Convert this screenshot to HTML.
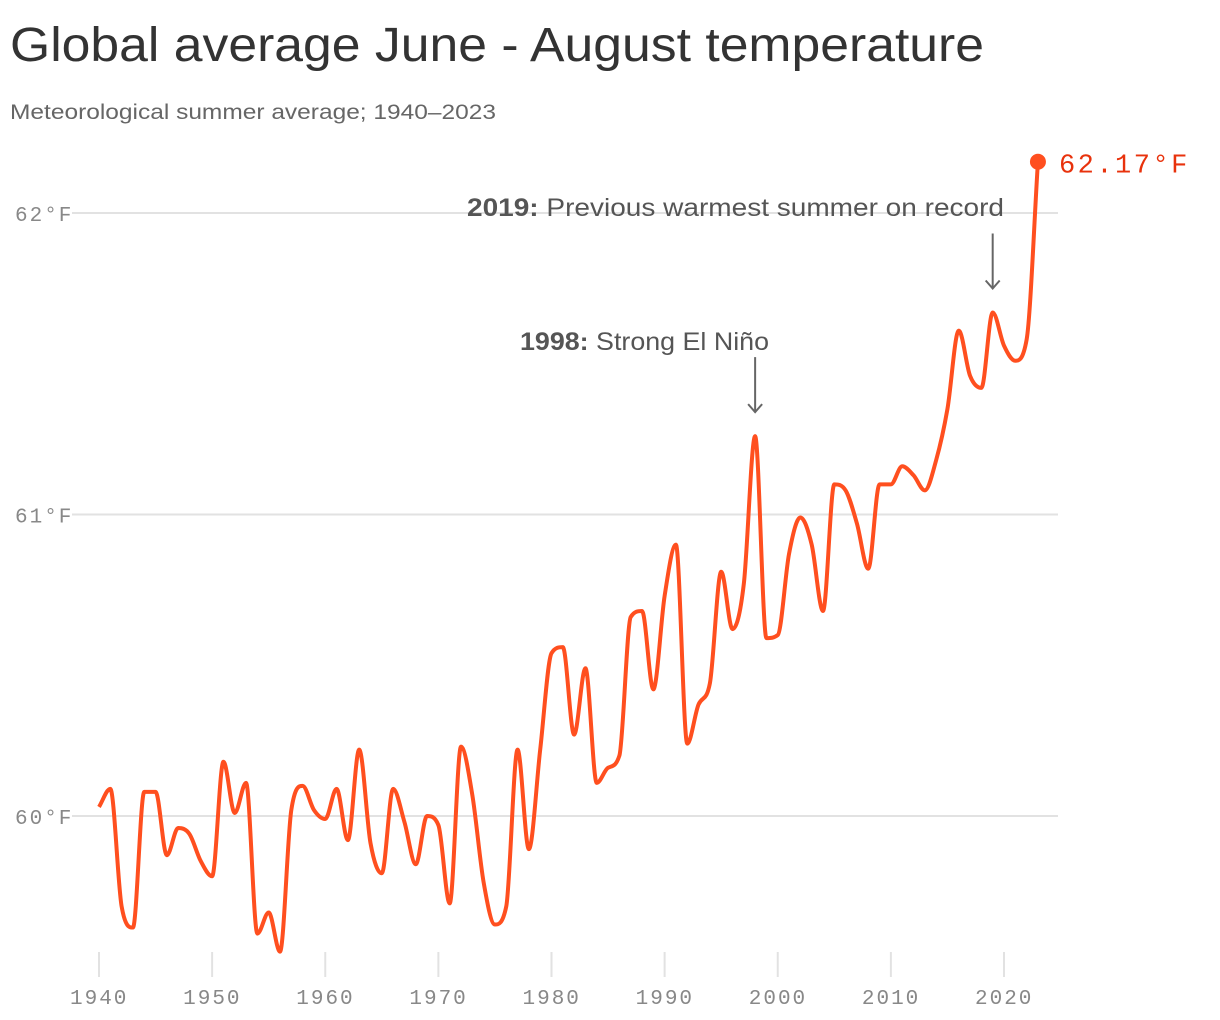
<!DOCTYPE html>
<html><head><meta charset="utf-8"><style>
html,body{margin:0;padding:0;background:#fff;}
svg{display:block;}
</style></head><body>
<svg id="chart" width="1220" height="1020" xmlns="http://www.w3.org/2000/svg">
<text x="10" y="61" font-family="Liberation Sans, sans-serif" font-size="48" fill="#333" textLength="974" lengthAdjust="spacingAndGlyphs">Global average June - August temperature</text>
<text x="10" y="119" font-family="Liberation Sans, sans-serif" font-size="21" fill="#666" textLength="486" lengthAdjust="spacingAndGlyphs">Meteorological summer average; 1940–2023</text>
<g id="grid"></g>
<g id="xaxis"></g>
<g id="annotations">
<text x="1004" y="216" text-anchor="end" font-family="Liberation Sans, sans-serif" font-size="25" fill="#555" textLength="537" lengthAdjust="spacingAndGlyphs"><tspan font-weight="bold">2019:</tspan> Previous warmest summer on record</text>
<text x="769" y="350" text-anchor="end" font-family="Liberation Sans, sans-serif" font-size="25" fill="#555" textLength="249" lengthAdjust="spacingAndGlyphs"><tspan font-weight="bold">1998:</tspan> Strong El Niño</text>
</g>
<g id="series"></g>
</svg>
<script>
const years = [];
for (let y = 1940; y <= 2023; y++) years.push(y);
const temps = [60.03,60.09,59.70,59.63,60.08,60.08,59.87,59.96,59.94,59.85,
59.80,60.18,60.01,60.11,59.61,59.68,59.55,60.02,60.10,60.02,
59.99,60.09,59.92,60.22,59.91,59.81,60.09,59.98,59.84,60.00,
59.97,59.71,60.23,60.07,59.78,59.64,59.70,60.22,59.89,60.22,
60.54,60.56,60.27,60.49,60.11,60.16,60.20,60.66,60.68,60.42,
60.73,60.90,60.24,60.37,60.44,60.81,60.62,60.77,61.26,60.59,
60.60,60.87,60.99,60.90,60.68,61.10,61.08,60.97,60.82,61.10,
61.10,61.16,61.13,61.08,61.18,61.35,61.61,61.46,61.42,61.67,
61.56,61.51,61.58,62.17];
const yTicks = [60, 61, 62];
const xTicks = [1940,1950,1960,1970,1980,1990,2000,2010,2020];
const annotatedYears = [1998, 2019];

const NS = "http://www.w3.org/2000/svg";
const xS = v => 99 + (v - 1940) * (905 / 80);
const yS = v => 816 - (v - 60) * 301.5;
function mk(tag, attrs, parent){const e=document.createElementNS(NS,tag);for(const k in attrs)e.setAttribute(k,attrs[k]);parent.appendChild(e);return e;}

const grid = document.getElementById('grid');
yTicks.forEach(t => {
  const l = mk('line',{x1:72,x2:1058,y1:yS(t),y2:yS(t),stroke:'#e2e2e2','stroke-width':2},grid);
  
  
  const tx = mk('text',{x:15,y:yS(t)+8,'font-family':'Liberation Mono, monospace','font-size':21,fill:'#888','letter-spacing':'2'},grid);
  tx.textContent = t + '°F';
  
  
});
const xa = document.getElementById('xaxis');
xTicks.forEach(t => {
  const l = mk('line',{x1:xS(t),x2:xS(t),y1:952,y2:977,stroke:'#e2e2e2','stroke-width':2},xa);
  
  
  const tx = mk('text',{x:xS(t)-29,y:1004,'font-family':'Liberation Mono, monospace','font-size':21,fill:'#888','letter-spacing':'2'},xa);
  tx.textContent = t;
  
  
});

const pts = years.map((y,i)=>[xS(y), yS(temps[i])]);
function monotone(p){
  const n=p.length, m=new Array(n), d=[];
  for(let i=0;i<n-1;i++) d.push((p[i+1][1]-p[i][1])/(p[i+1][0]-p[i][0]));
  m[0]=d[0]; m[n-1]=d[n-2];
  for(let i=1;i<n-1;i++){ m[i]=(d[i-1]*d[i]<=0)?0:(d[i-1]+d[i])/2; }
  for(let i=0;i<n-1;i++){ if(d[i]===0){m[i]=0;m[i+1]=0;continue;}
    const a=m[i]/d[i], b=m[i+1]/d[i], s=a*a+b*b;
    if(s>9){const t=3/Math.sqrt(s); m[i]=t*a*d[i]; m[i+1]=t*b*d[i];}}
  let s='M'+p[0][0]+','+p[0][1];
  for(let i=0;i<n-1;i++){const h=(p[i+1][0]-p[i][0])/3;
    s+=' C'+(p[i][0]+h)+','+(p[i][1]+m[i]*h)+' '+(p[i+1][0]-h)+','+(p[i+1][1]-m[i+1]*h)+' '+p[i+1][0]+','+p[i+1][1];}
  return s;
}
const ser = document.getElementById('series');
const path = mk('path',{d:monotone(pts),fill:'none',stroke:'#ff4f1f','stroke-width':4,'stroke-linejoin':'round'},ser);


const li = temps.length-1;
const dot = mk('circle',{cx:xS(years[li]),cy:yS(temps[li]),r:8,fill:'#ff4f1f'},ser);


const lbl = mk('text',{x:xS(years[li])+21,y:yS(temps[li])+11,'font-family':'Liberation Mono, monospace','font-size':27,fill:'#e8320c','letter-spacing':'2.5'},ser);
lbl.textContent = temps[li].toFixed(2)+'°F';



const ann = document.getElementById('annotations');
annotatedYears.forEach(yr => {
  const v = temps[yr-1940], x = xS(yr), tip = yS(v) - 24;
  const g = mk('g',{stroke:'#666','stroke-width':2,fill:'none'},ann);
  
  
  mk('line',{x1:x,x2:x,y1:tip-55,y2:tip},g);
  mk('polyline',{points:(x-7)+','+(tip-8)+' '+x+','+tip+' '+(x+7)+','+(tip-8)},g);
});
</script>
</body></html>
